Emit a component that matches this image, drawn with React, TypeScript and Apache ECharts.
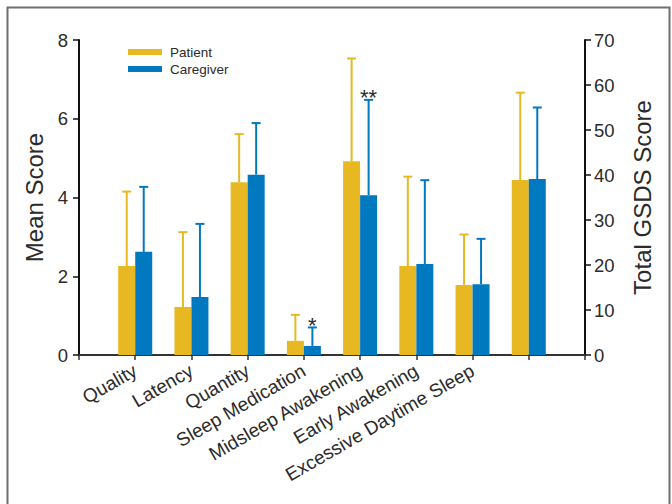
import React, { useEffect, useRef } from "react";
import * as echarts from "echarts";

// ---- Data ----
const categories = [
  "Quality",
  "Latency",
  "Quantity",
  "Sleep Medication",
  "Midsleep Awakening",
  "Early Awakening",
  "Excessive Daytime Sleep",
];
const patientMean = [2.26, 1.22, 4.39, 0.36, 4.92, 2.26, 1.78];
const patientUpper = [4.15, 3.12, 5.61, 1.02, 7.53, 4.53, 3.06];
const caregiverMean = [2.62, 1.47, 4.58, 0.23, 4.06, 2.31, 1.8];
const caregiverUpper = [4.27, 3.33, 5.89, 0.7, 6.48, 4.44, 2.95];
const significance = ["", "", "", "*", "**", "", ""];

// Total GSDS score (right axis)
const gsdsMean = [38.9, 39.1]; // patient, caregiver
const gsdsUpper = [58.3, 55.0];

const legendNames = ["Patient", "Caregiver"];
const leftAxisName = "Mean Score";
const rightAxisName = "Total GSDS Score";

// ---- Styles ----
const YELLOW = "#E7B822";
const BLUE = "#0179C1";
const TEXT = "#2b2b2b";
const FONT = "Liberation Sans, Arial, Helvetica, sans-serif";
const BAR_W = 17;

// padded category slots: [pad, 7 subscales, GSDS, pad]
const PAD_START = "__pad0";
const GSDS_SLOT = "__gsds";
const PAD_END = "__pad9";
const slots = [PAD_START, ...categories, GSDS_SLOT, PAD_END];

function slotSeries(values: number[], offset: number) {
  const arr: (number | string)[] = slots.map(() => "-");
  values.forEach((v, i) => {
    arr[i + offset] = v;
  });
  return arr;
}

function errorData(means: number[], uppers: number[], side: number, offset: number) {
  return means.map((m, i) => [i + offset, m, uppers[i], side]);
}

function makeRenderItem(labels: string[] | null) {
  return (params: any, api: any) => {
    const idx = api.value(0);
    const mean = api.value(1);
    const upper = api.value(2);
    const side = api.value(3);
    const p0 = api.coord([idx, mean]);
    const p1 = api.coord([idx, upper]);
    const x = p0[0] + (side * BAR_W) / 2;
    const color = side < 0 ? YELLOW : BLUE;
    const children: any[] = [
      {
        type: "line",
        shape: { x1: x, y1: p0[1], x2: x, y2: p1[1] },
        style: { stroke: color, lineWidth: 2 },
      },
      {
        type: "line",
        shape: { x1: x - 4.5, y1: p1[1], x2: x + 4.5, y2: p1[1] },
        style: { stroke: color, lineWidth: 2 },
      },
    ];
    const lab = labels ? labels[params.dataIndex] : "";
    if (lab && side > 0) {
      children.push({
        type: "text",
        x: x,
        y: p1[1] - 2,
        style: {
          text: lab,
          fill: TEXT,
          font: `22px ${FONT}`,
          align: "center",
          verticalAlign: "middle",
        },
      });
    }
    return { type: "group", children };
  };
}

export default function App() {
  const ref = useRef<HTMLDivElement>(null);

  useEffect(() => {
    if (!ref.current) return;
    const chart = echarts.init(ref.current, null, {
      renderer: "svg",
      width: 672,
      height: 504,
    });

    const hiddenSlot = (v: string) =>
      v === PAD_START || v === PAD_END || v === GSDS_SLOT ? "" : v;

    const option: any = {
      animation: false,
      backgroundColor: "#ffffff",
      textStyle: { fontFamily: FONT },
      grid: { left: 79, right: 87, top: 40, bottom: 149, containLabel: false },
      legend: {
        data: legendNames,
        orient: "vertical",
        left: 128,
        top: 45,
        padding: 0,
        itemGap: 3,
        itemWidth: 34,
        itemHeight: 6,
        icon: "rect",
        selectedMode: false,
        textStyle: {
          color: TEXT,
          fontSize: 13.5,
          fontFamily: FONT,
          padding: [0, 0, 0, 3],
        },
      },
      xAxis: [
        {
          type: "category",
          data: slots,
          boundaryGap: false,
          axisLine: { show: true, lineStyle: { color: "#333", width: 2 } },
          axisTick: {
            show: true,
            interval: 0,
            length: 5,
            lineStyle: { color: "#333", width: 1.5 },
          },
          axisLabel: {
            interval: 0,
            rotate: 30,
            margin: 14,
            fontSize: 19,
            color: TEXT,
            fontFamily: FONT,
            formatter: hiddenSlot,
          },
          splitLine: { show: false },
        },
        {
          type: "category",
          data: slots,
          boundaryGap: false,
          show: false,
        },
      ],
      yAxis: [
        {
          type: "value",
          min: 0,
          max: 8,
          interval: 2,
          name: leftAxisName,
          nameLocation: "middle",
          nameRotate: 90,
          nameGap: 31,
          nameTextStyle: { fontSize: 24, color: TEXT, fontFamily: FONT },
          axisLine: { show: true, lineStyle: { color: "#111", width: 2 } },
          axisTick: { show: true, length: 6, lineStyle: { color: "#111", width: 1.5 } },
          axisLabel: { fontSize: 18.5, color: TEXT, margin: 11, fontFamily: FONT },
          splitLine: { show: false },
        },
        {
          type: "value",
          min: 0,
          max: 70,
          interval: 10,
          position: "right",
          name: rightAxisName,
          nameLocation: "middle",
          nameRotate: 90,
          nameGap: 45,
          nameTextStyle: { fontSize: 24, color: TEXT, fontFamily: FONT },
          axisLine: { show: true, lineStyle: { color: "#111", width: 2 } },
          axisTick: { show: true, length: 6, lineStyle: { color: "#111", width: 1.5 } },
          axisLabel: { fontSize: 18.5, color: TEXT, margin: 9, fontFamily: FONT },
          splitLine: { show: false },
        },
      ],
      series: [
        {
          name: legendNames[0],
          type: "bar",
          xAxisIndex: 0,
          yAxisIndex: 0,
          barWidth: BAR_W,
          barGap: "0%",
          itemStyle: { color: YELLOW },
          data: slotSeries(patientMean, 1),
        },
        {
          name: legendNames[1],
          type: "bar",
          xAxisIndex: 0,
          yAxisIndex: 0,
          barWidth: BAR_W,
          barGap: "0%",
          itemStyle: { color: BLUE },
          data: slotSeries(caregiverMean, 1),
        },
        {
          name: legendNames[0],
          type: "bar",
          xAxisIndex: 1,
          yAxisIndex: 1,
          barWidth: BAR_W,
          barGap: "0%",
          itemStyle: { color: YELLOW },
          data: slotSeries([gsdsMean[0]], categories.length + 1),
        },
        {
          name: legendNames[1],
          type: "bar",
          xAxisIndex: 1,
          yAxisIndex: 1,
          barWidth: BAR_W,
          barGap: "0%",
          itemStyle: { color: BLUE },
          data: slotSeries([gsdsMean[1]], categories.length + 1),
        },
        {
          type: "custom",
          name: "patientErr",
          xAxisIndex: 0,
          yAxisIndex: 0,
          z: 3,
          renderItem: makeRenderItem(null),
          data: errorData(patientMean, patientUpper, -1, 1),
        },
        {
          type: "custom",
          name: "caregiverErr",
          xAxisIndex: 0,
          yAxisIndex: 0,
          z: 3,
          renderItem: makeRenderItem(significance),
          data: errorData(caregiverMean, caregiverUpper, 1, 1),
        },
        {
          type: "custom",
          name: "gsdsErr",
          xAxisIndex: 1,
          yAxisIndex: 1,
          z: 3,
          renderItem: makeRenderItem(null),
          data: [
            [categories.length + 1, gsdsMean[0], gsdsUpper[0], -1],
            [categories.length + 1, gsdsMean[1], gsdsUpper[1], 1],
          ],
        },
      ],
      graphic: [
        {
          type: "polyline",
          shape: {
            points: [
              [7.5, 504],
              [7.5, 7.5],
              [669.5, 7.5],
              [669.5, 504],
            ],
          },
          style: { stroke: "#6e6e6e", lineWidth: 2, fill: "none" },
          silent: true,
        },
      ],
    };

    chart.setOption(option);
    return () => chart.dispose();
  }, []);

  return (
    <div
      ref={ref}
      style={{
        position: "fixed",
        left: 0,
        top: 0,
        width: 672,
        height: 504,
        background: "#fff",
      }}
    />
  );
}
